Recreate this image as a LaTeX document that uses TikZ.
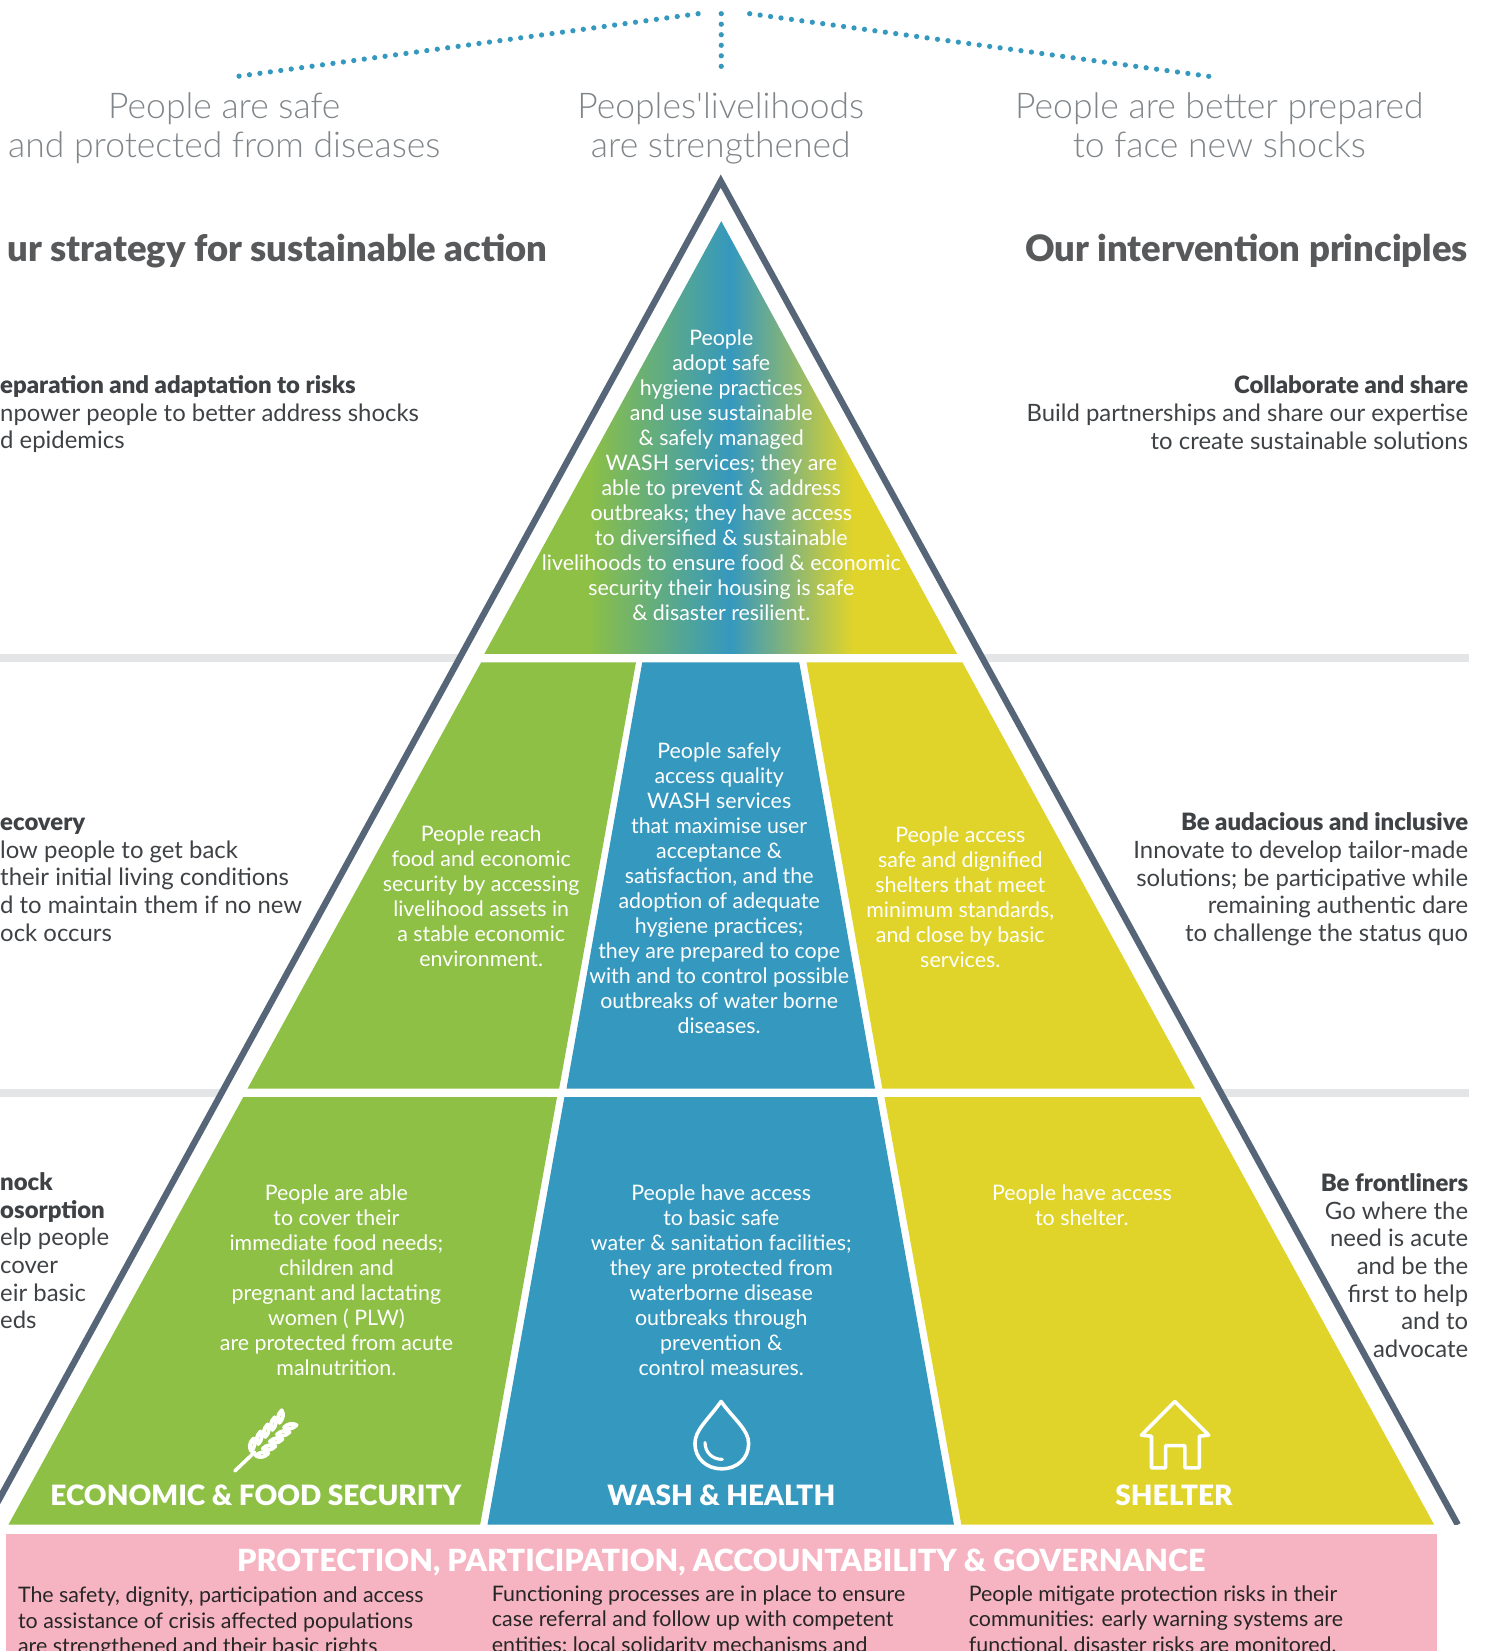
\documentclass[tikz,border=0pt]{standalone}
\usepackage{fontspec}
\setmainfont{Lato}
\newfontfamily\lightfont{Lato Light}
\newfontfamily\blackfont{Lato Black}
\newcommand{\sidehead}[1]{{\blackfont #1}}
\definecolor{econgreen}{HTML}{8DC045}
\definecolor{washblue}{HTML}{3598BE}
\definecolor{shelteryellow}{HTML}{E0D42B}
\definecolor{protpink}{HTML}{F6B3C1}
\definecolor{frameslate}{HTML}{566577}
\definecolor{bandgrey}{HTML}{E4E5E6}
\definecolor{titlegrey}{HTML}{808589}
\definecolor{headgrey}{HTML}{58595B}
\definecolor{bodygrey}{HTML}{3F4245}
\pgfdeclarehorizontalshading{topshade}{100bp}{color(0bp)=(econgreen); color(36bp)=(econgreen); color(51bp)=(washblue); color(64bp)=(shelteryellow); color(100bp)=(shelteryellow)}

\begin{document}
\begin{tikzpicture}[x=1pt,y=-1pt]

\tikzset{goal/.style = {font=\lightfont\fontsize{33.7}{37.3}\selectfont, text=titlegrey, align=center, anchor=base}}
\tikzset{head/.style = {font=\blackfont\fontsize{34.6}{39}\selectfont, text=headgrey, inner sep=0pt}}
\tikzset{side/.style = {font=\fontsize{22.7}{26.3}\selectfont, text=bodygrey, inner sep=0pt}}
\tikzset{inner/.style = {font=\fontsize{20.3}{23.75}\selectfont, text=white, align=center}}
\tikzset{pillar/.style = {font=\blackfont\fontsize{26.6}{32}\selectfont, text=white}}
\tikzset{cell/.style = {font=\fontsize{20.3}{24}\selectfont, text=black!85, align=left, anchor=north west, inner sep=0pt}}
\tikzset{dots/.style = {washblue, line width=5pt, line cap=round, dash pattern=on 0pt off 10pt}}
\tikzset{icon/.style = {white, line width=3.4pt, line cap=round, line join=round}}

\useasboundingbox (0,0) rectangle (1411.2,1568);
\clip (0,0) rectangle (1411.2,1568);

% bands
\fill[bandgrey] (0,621) rectangle (1395,629);
\fill[bandgrey] (0,1034) rectangle (1395,1042);

% frame
\fill[white] (-14,1448) -- (684.5,172) -- (1384.5,1448) -- cycle;
\begin{scope}
\clip (-30,150) rectangle (1411,1448);
\draw[frameslate, line width=6pt, miter limit=20] (-14,1448) -- (684.5,172) -- (1384.5,1448);
\end{scope}

% pyramid
\shade[shading=topshade] (685,210) -- (909,621) -- (460,621) -- cycle;
\fill[econgreen] (457,629) -- (604,629) -- (531,1034) -- (235,1034) -- cycle;
\fill[washblue] (610,629) -- (759,629) -- (831,1034) -- (538,1034) -- cycle;
\fill[shelteryellow] (766,629) -- (914,629) -- (1135,1034) -- (838,1034) -- cycle;
\fill[econgreen] (231,1042) -- (529,1042) -- (456,1448) -- (8,1448) -- cycle;
\fill[washblue] (536,1042) -- (833,1042) -- (906,1448) -- (463,1448) -- cycle;
\fill[shelteryellow] (840,1042) -- (1140,1042) -- (1362,1448) -- (913,1448) -- cycle;
\fill[protpink] (6,1457) rectangle (1365,1580);

% dotted lines
\coordinate (dotL0) at (663,13);
\coordinate (dotL1) at (222,73);
\coordinate (dotM0) at (685,13);
\coordinate (dotM1) at (685,72);
\coordinate (dotR0) at (712,13);
\coordinate (dotR1) at (1152,73);
\draw[dots] (dotL0) -- (dotL1);
\draw[dots] (dotM0) -- (dotM1);
\draw[dots] (dotR0) -- (dotR1);

% goals
\node[goal] (goalL) at (213,149.5) {People are safe\\and protected from diseases};
\node[goal] (goalM) at (684.5,149.5) {Peoples'livelihoods\\are strengthened};
\node[goal] (goalR) at (1158,149.5) {People are better prepared\\to face new shocks};

% headings
\node[head, anchor=east] (stratHead) at (520,238) {ur strategy for sustainable action};
\node[head, anchor=east] (princHead) at (1394.5,238) {Our intervention principles};

% left column
\node[side, align=left, anchor=west] (prep) at (0,393.5) {\sidehead{eparation and adaptation to risks}\\npower people to better address shocks\\d epidemics};
\node[side, align=left, anchor=west] (recov) at (0,835.5) {\sidehead{ecovery}\\low people to get back\\their initial living conditions\\d to maintain them if no new\\ock occurs};
\node[side, align=left, anchor=west] (shock) at (0,1188) {\sidehead{nock}\\\sidehead{osorption}\\elp people\\cover\\eir basic\\eds};

% right column
\node[side, align=right, anchor=east] (collab) at (1394.5,392) {\sidehead{Collaborate and share}\\Build partnerships and share our expertise\\to create sustainable solutions};
\node[side, align=right, anchor=east] (audac) at (1394.5,835) {\sidehead{Be audacious and inclusive}\\Innovate to develop tailor-made\\solutions; be participative while\\remaining authentic dare\\to challenge the status quo};
\node[side, align=right, anchor=east] (front) at (1394.5,1202) {\sidehead{Be frontliners}\\Go where the\\need is acute\\and be the\\first to help\\and to\\advocate};

% texts inside the pyramid
\node[inner] (top) at (685,451.5) {People\\adopt safe\\hygiene practices\\and use sustainable\\\& safely managed\\WASH services; they are\\able to prevent \& address\\outbreaks; they have access\\to diversified \& sustainable\\livelihoods to ensure food \& economic\\security their housing is safe\\\& disaster resilient.};
\node[inner] (midE) at (457,851.5) {People reach\\food and economic\\security by accessing\\livelihood assets in\\a stable economic\\environment.};
\node[inner] (midW) at (683,843.5) {People safely\\access quality\\WASH services\\that maximise user\\acceptance \&\\satisfaction, and the\\adoption of adequate\\hygiene practices;\\they are prepared to cope\\with and to control possible\\outbreaks of water borne\\diseases.};
\node[inner] (midS) at (912,852.5) {People access\\safe and dignified\\shelters that meet\\minimum standards,\\and close by basic\\services.};
\node[inner] (lowE) at (319.5,1216) {People are able\\to cover their\\immediate food needs;\\children and\\pregnant and lactating\\women ( PLW)\\are protected from acute\\malnutrition.};
\node[inner] (lowW) at (685,1216) {People have access\\to basic safe\\water \& sanitation facilities;\\they are protected from\\waterborne disease\\outbreaks through\\prevention \&\\control measures.};
\node[inner] (lowS) at (1027.5,1145) {People have access\\to shelter.};

% pillar names
\node[pillar] (econ) at (243,1420) {ECONOMIC \& FOOD SECURITY};
\node[pillar] (wash) at (685,1420) {WASH \& HEALTH};
\node[pillar] (shel) at (1115,1420) {SHELTER};

% wheat icon
\draw[icon] (223,1397) -- (242,1379);
\begin{scope}[shift={(240,1381)}, rotate=45]
\foreach \u in {1,10.5,20,29.5,39} {
  \filldraw[icon, fill=econgreen, line width=3.6pt] (\u,-3) .. controls (\u+1,-7) and (\u+4,-10) .. (\u+10,-10) .. controls (\u+9,-6) and (\u+5,-3) .. (\u,-3) -- cycle;
  \filldraw[icon, fill=econgreen, line width=3.6pt] (\u,3) .. controls (\u+1,7) and (\u+4,10) .. (\u+10,10) .. controls (\u+9,6) and (\u+5,3) .. (\u,3) -- cycle;
}
\end{scope}

% drop icon
\draw[icon] (684.8,1331) .. controls (672,1349) and (660,1358) .. (660,1371) .. controls (660,1385) and (671,1395) .. (685.5,1395) .. controls (700,1395) and (711,1385) .. (711,1371) .. controls (711,1358) and (698,1349) .. (684.8,1331) -- cycle;
\draw[icon, line width=3pt] (669.6,1370) .. controls (669.6,1379) and (676,1386) .. (686,1386);

% house icon
\draw[icon] (1115.8,1331) -- (1148,1363) -- (1139,1364) -- (1139,1394) -- (1125.3,1394) -- (1125.3,1373) -- (1107,1373) -- (1107,1394) -- (1093.6,1394) -- (1093.6,1364) -- (1084,1363) -- cycle;

% protection block
\node[pillar, font=\blackfont\fontsize{29}{32}\selectfont] (protHead) at (685,1484) {PROTECTION, PARTICIPATION, ACCOUNTABILITY \& GOVERNANCE};
\node[cell] (protA) at (17,1507) {The safety, dignity, participation and access\\to assistance of crisis affected populations\\are strengthened and their basic rights};
\node[cell] (protB) at (467,1506) {Functioning processes are in place to ensure\\case referral and follow up with competent\\entities; local solidarity mechanisms and};
\node[cell] (protC) at (920,1506) {People mitigate protection risks in their\\communities: early warning systems are\\functional, disaster risks are monitored,};

\end{tikzpicture}
\end{document}
